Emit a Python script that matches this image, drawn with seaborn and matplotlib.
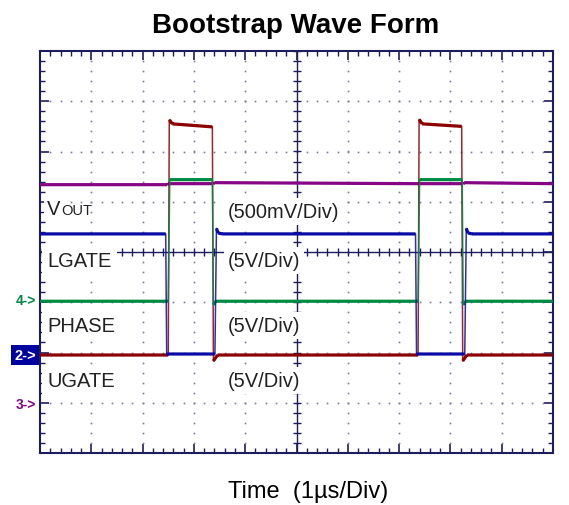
import numpy as np
import pandas as pd
import matplotlib
matplotlib.use("Agg")
import matplotlib.pyplot as plt
import matplotlib.transforms as mtransforms
from matplotlib.ticker import MultipleLocator
import seaborn as sns

# ---- data (divisions; x: 1 us/div, y: scope divisions) ----
vout_t = [0.00, 2.48, 2.50, 3.38, 3.40, 7.35, 7.37, 8.25, 8.27, 10.00]
vout_v = [1.34, 1.34, 1.36, 1.36, 1.38, 1.36, 1.36, 1.36, 1.38, 1.36]

ugate_t = [0.00, 2.50, 2.52, 2.58, 3.36, 3.38, 3.46, 7.37, 7.39, 7.45, 8.22, 8.24, 8.32, 10.00]
ugate_v = [-2.05, -2.05, 2.63, 2.55, 2.49, -2.17, -2.05, -2.05, 2.64, 2.55, 2.50, -2.17, -2.05, -2.05]

phase_t = [0.00, 2.50, 2.53, 3.36, 3.38, 3.42, 7.37, 7.40, 8.23, 8.25, 8.29, 10.00]
phase_v = [-0.98, -0.98, 1.44, 1.44, -1.05, -0.98, -0.98, 1.44, 1.44, -1.05, -0.98, -0.98]

lgate_t = [0.00, 2.45, 2.47, 3.41, 3.44, 3.47, 3.55, 7.32, 7.34, 8.28, 8.31, 8.34, 8.42, 10.00]
lgate_v = [0.36, 0.36, -2.03, -2.03, 0.47, 0.38, 0.36, 0.36, -2.03, -2.03, 0.47, 0.38, 0.36, 0.36]

trace_labels = ["V", "LGATE", "PHASE", "UGATE"]
scale_labels = ["(500mV/Div)", "(5V/Div)", "(5V/Div)", "(5V/Div)"]
label_y = [0.76, -0.28, -1.57, -2.67]
scale_y = [0.70, -0.28, -1.57, -2.67]

channel_marks = ["4->", "2->", "3->"]
channel_y = [-0.95, -2.05, -3.02]

title = "Bootstrap Wave Form"
xlabel = "Time  (1\u00b5s/Div)"

# ---- style ----
sns.set_theme(style="white")
plt.rcParams["font.family"] = ["Liberation Sans", "DejaVu Sans"]

NAVY = "#1c1c5e"
GRIDC = "#7a7aa0"
C_VOUT = "#850585"
C_UG = "#8b0000"
C_PH = "#008a44"
C_LG = "#0a0aa5"

fig = plt.figure(figsize=(5.69, 5.06), dpi=100)
ax = fig.add_axes([40 / 569, 1 - 454 / 506, 513 / 569, 402 / 506])
ax.set_xlim(0, 10)
ax.set_ylim(-4, 4)

# dotted graticule
gx, gy = [], []
minor = np.arange(0, 10.001, 0.2)
for yy in [-3, -2, -1, 1, 2, 3]:
    gx.extend(minor); gy.extend([yy] * len(minor))
minor_y = np.arange(-4, 4.001, 0.2)
for xx in [1, 2, 3, 4, 6, 7, 8, 9]:
    gx.extend([xx] * len(minor_y)); gy.extend(minor_y)
ax.plot(gx, gy, ls="none", marker="s", ms=1.2, mew=0, color=GRIDC, zorder=1)

# center cross lines with ticks
ax.plot(minor, np.zeros_like(minor), color=NAVY, lw=1.0, marker="|", ms=6, mew=1.0, zorder=1.5)
ax.plot(np.full_like(minor_y, 5.0), minor_y, color=NAVY, lw=1.0, marker="_", ms=6, mew=1.0, zorder=1.5)

# labels with white boxes
for lab, ly in zip(trace_labels, label_y):
    if lab == "V":
        ax.text(0.14, ly, "V", fontsize=14.5, color="#222222", va="baseline", ha="left",
                zorder=2, bbox=dict(boxstyle="square,pad=0.15", fc="white", ec="none"))
        ax.annotate("OUT", xy=(0.14, ly), xycoords="data", xytext=(9.8, 0), textcoords="offset points",
                    fontsize=10.5, color="#222222", va="baseline", ha="left", zorder=2)
    else:
        ax.text(0.14, ly, lab, fontsize=14.5, color="#222222", va="baseline", ha="left", zorder=2,
                bbox=dict(boxstyle="square,pad=0.25", fc="white", ec="none"))
for lab, ly in zip(scale_labels, scale_y):
    ax.text(3.66, ly, lab, fontsize=14.5, color="#222222", va="baseline", ha="left", zorder=2,
            bbox=dict(boxstyle="square,pad=0.2", fc="white", ec="none"))


def flat_parts(t, v):
    """Break a trace at its steep edges so flat parts can be drawn heavier."""
    t = np.asarray(t, float); v = np.asarray(v, float)
    xs, ys = [], []
    for i in range(len(t) - 1):
        slope = abs(v[i + 1] - v[i]) / max(t[i + 1] - t[i], 1e-9)
        if slope < 20:
            xs += [t[i], t[i + 1], np.nan]; ys += [v[i], v[i + 1], np.nan]
    return xs, ys


# traces: thin full trace (edges) plus heavier flat parts
traces = [(vout_t, vout_v, C_VOUT, 3.0), (ugate_t, ugate_v, C_UG, 3.1),
          (phase_t, phase_v, C_PH, 3.2), (lgate_t, lgate_v, C_LG, 3.3)]
for t, v, c, z in traces:
    sns.lineplot(x=t, y=v, ax=ax, color=c, lw=1.1, alpha=0.85, sort=False, estimator=None, zorder=z)
    fx, fy = flat_parts(t, v)
    ax.plot(fx, fy, color=c, lw=2.3, solid_capstyle="butt", zorder=z + 0.05)

# channel markers left of axes
trans = mtransforms.blended_transform_factory(ax.transAxes, ax.transData)
mark_colors = [C_PH, "white", C_VOUT]
for m, my, mc in zip(channel_marks, channel_y, mark_colors):
    if mc == "white":
        ax.text(-0.008, my, m, transform=trans, fontsize=10.5, color=mc, ha="right", va="center",
                clip_on=False, fontweight="bold",
                bbox=dict(boxstyle="square,pad=0.22", fc="#0000a0", ec="none"))
    else:
        ax.text(-0.008, my, m, transform=trans, fontsize=10, color=mc, ha="right", va="center",
                clip_on=False, fontweight="bold")

# frame and ticks
for s in ax.spines.values():
    s.set_color(NAVY)
    s.set_linewidth(1.5)
    s.set_visible(True)
ax.xaxis.set_major_locator(MultipleLocator(1))
ax.xaxis.set_minor_locator(MultipleLocator(0.2))
ax.yaxis.set_major_locator(MultipleLocator(1))
ax.yaxis.set_minor_locator(MultipleLocator(0.2))
ax.tick_params(which="both", direction="in", top=True, right=True, bottom=True, left=True,
               labelbottom=False, labelleft=False, color=NAVY)
ax.tick_params(which="major", length=6.5, width=1.2)
ax.tick_params(which="minor", length=3.6, width=1.0)
ax.set_xlabel("")
ax.set_ylabel("")
ax.grid(False)

fig.text(296 / 569, 1 - 33 / 506, title, fontsize=20, fontweight="bold", ha="center", va="baseline",
         color="black")
fig.text(308 / 569, 1 - 498 / 506, xlabel, fontsize=17, ha="center", va="baseline", color="black")

fig.savefig("out.png", dpi=100, facecolor="white")
